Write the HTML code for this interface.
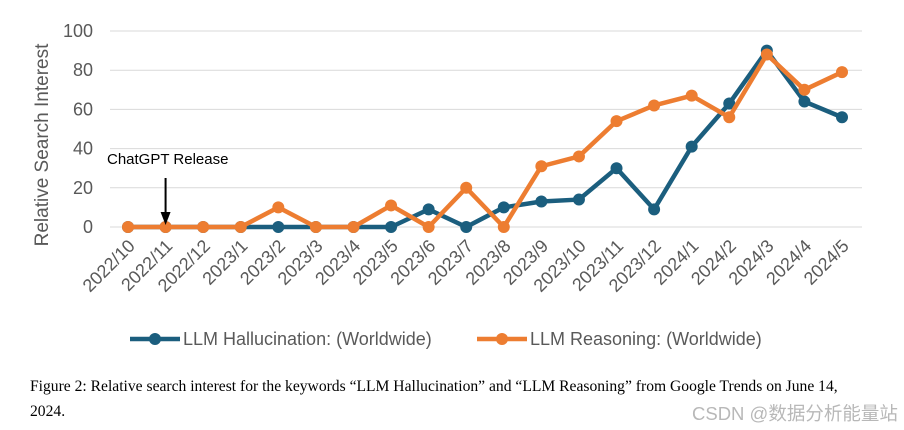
<!DOCTYPE html>
<html><head><meta charset="utf-8"><style>
body{margin:0;background:#fff;width:904px;height:430px;overflow:hidden;font-family:"Liberation Sans",sans-serif}
svg{position:absolute;left:0;top:0}
.cap{position:absolute;left:30px;top:374px;width:845px;font-family:"Liberation Serif",serif;font-size:15.6px;line-height:25px;color:#000}
.wm{position:absolute;left:692px;top:400px;font-family:"Liberation Sans","Noto Sans CJK SC",sans-serif;font-size:18.5px;color:#b8b8b8}
</style></head><body>
<svg id="chart" width="904" height="430"></svg>
<div class="cap">Figure 2: Relative search interest for the keywords “LLM Hallucination” and “LLM Reasoning” from Google Trends on June 14, 2024.</div>
<div class="wm">CSDN @数据分析能量站</div>
<script>
const categories=["2022/10","2022/11","2022/12","2023/1","2023/2","2023/3","2023/4","2023/5","2023/6","2023/7","2023/8","2023/9","2023/10","2023/11","2023/12","2024/1","2024/2","2024/3","2024/4","2024/5"];
const hallucination=[0,0,0,0,0,0,0,0,9,0,10,13,14,30,9,41,63,90,64,56];
const reasoning=[0,0,0,0,10,0,0,11,0,20,0,31,36,54,62,67,56,88,70,79];
const yTicks=[0,20,40,60,80,100];
const NS="http://www.w3.org/2000/svg";
const svg=document.getElementById('chart');
const x=i=>128+i*(842-128)/(categories.length-1);
const y=v=>227-v*1.96;
function mk(t,a,p){const e=document.createElementNS(NS,t);for(const k in a)e.setAttribute(k,a[k]);(p||svg).appendChild(e);return e;}
yTicks.forEach(t=>{
 const g=mk('line',{x1:110,x2:862,y1:y(t),y2:y(t),stroke:'#d9d9d9','stroke-width':1});
 
 
 const l=mk('text',{x:93,y:y(t)+6,'text-anchor':'end','font-size':18,fill:'#595959'});l.textContent=t;
 
 
});
categories.forEach((c,i)=>{
 const l=mk('text',{x:x(i)+8,y:247,'text-anchor':'end','font-size':18,fill:'#595959',transform:`rotate(-45 ${x(i)+8} 247)`});l.textContent=c;
 
 
});
const yt=mk('text',{x:48,y:145,'text-anchor':'middle','font-size':19,fill:'#595959',transform:'rotate(-90 48 145)'});yt.textContent='Relative Search Interest';


function series(vals,col,name){
 const p=mk('polyline',{points:vals.map((v,i)=>x(i)+','+y(v)).join(' '),fill:'none',stroke:col,'stroke-width':4.5,'stroke-linejoin':'round'});
 
 
 vals.forEach((v,i)=>{const c=mk('circle',{cx:x(i),cy:y(v),r:6,fill:col});
 
 });
}
series(hallucination,'#1b5e7e','hallucination');
series(reasoning,'#ed7d31','reasoning');
const an=mk('text',{x:107,y:164,'font-size':15,fill:'#000'});an.textContent='ChatGPT Release';


const ar=mk('line',{x1:x(1),x2:x(1),y1:178,y2:214,stroke:'#000','stroke-width':2});


const ah=mk('polygon',{points:`${x(1)-5},212 ${x(1)+5},212 ${x(1)},225`,fill:'#000'});


[[130,'#1b5e7e','LLM Hallucination: (Worldwide)','legend-hallucination'],[477,'#ed7d31','LLM Reasoning: (Worldwide)','legend-reasoning']].forEach(([lx,col,txt,nm])=>{
 const g=mk('g',{});
 
 
 mk('line',{x1:lx,x2:lx+50,y1:339,y2:339,stroke:col,'stroke-width':4.5},g);
 mk('circle',{cx:lx+25,cy:339,r:6,fill:col},g);
 const t=mk('text',{x:lx+53,y:345,'font-size':18,fill:'#595959'},g);t.textContent=txt;
});
</script>
</body></html>
